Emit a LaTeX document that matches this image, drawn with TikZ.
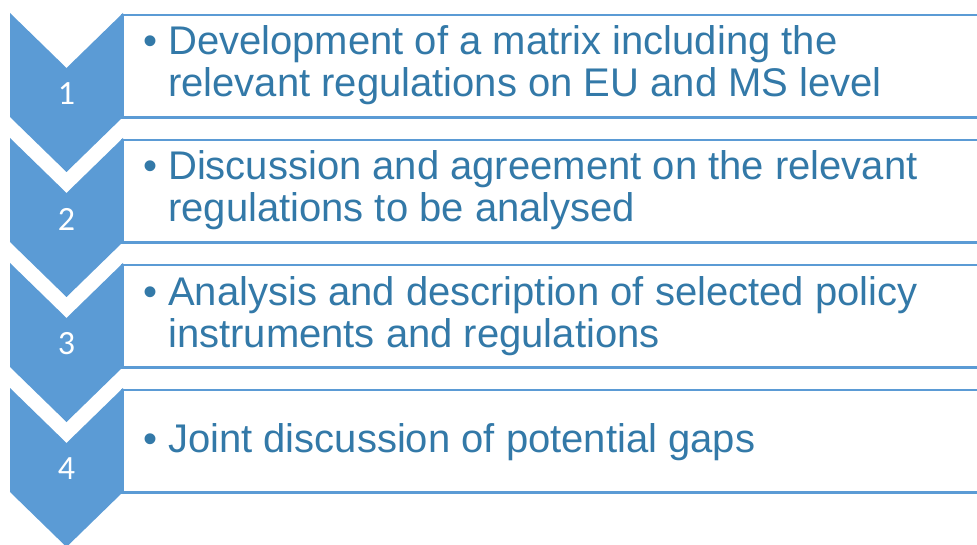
\documentclass[tikz,border=0pt]{standalone}
\usepackage{fontspec}
\setmainfont{Liberation Sans}
\newfontfamily\numfont{Carlito}
\usetikzlibrary{positioning}

\definecolor{chevblue}{HTML}{5B9BD5}
\definecolor{textblue}{HTML}{3379A8}

\begin{document}
\begin{tikzpicture}[x=1pt, y=-1pt, node distance=22.5pt]
    \tikzstyle{chevron} = [fill=chevblue]
    \tikzstyle{stepbox} = [rectangle, draw=chevblue, line width=2.5pt, fill=white, minimum width=880pt, minimum height=102.5pt, inner sep=0pt, outer sep=0pt, anchor=north west]
    \tikzstyle{item} = [anchor=base west, text=textblue, font=\fontsize{40}{42}\selectfont, inner sep=0pt, align=left]
    \tikzstyle{number} = [text=white, font=\numfont\fontsize{34}{34}\selectfont]

    \clip (0,0) rectangle (977,545);

    % step boxes, running off the right edge
    \node [stepbox] (matrix) at (122.5,15) {};
    \node [stepbox, below=of matrix] (agreement) {};
    \node [stepbox, below=of agreement] (analysis) {};
    \node [stepbox, below=of analysis] (gaps) {};

    % chevrons on the left
    \fill [chevron] (10,13) -- (66.5,68) -- (123,13) -- (123,117) -- (66.5,172) -- (10,117) -- cycle;
    \fill [chevron] (10,138) -- (66.5,193) -- (123,138) -- (123,242) -- (66.5,297) -- (10,242) -- cycle;
    \fill [chevron] (10,263) -- (66.5,318) -- (123,263) -- (123,367) -- (66.5,422) -- (10,367) -- cycle;
    \fill [chevron] (10,388) -- (66.5,443) -- (123,388) -- (123,492) -- (66.5,547) -- (10,492) -- cycle;

    \node [number] (num1) at (66.5,94) {1};
    \node [number] (num2) at (66.5,219) {2};
    \node [number] (num3) at (66.5,344) {3};
    \node [number] (num4) at (66.5,469) {4};

    % bullet texts (base = baseline of the last line)
    \node [item] (matrixtext) at ([xshift=45.5pt, yshift=-82pt]matrix.north west)
        {\llap{\textbullet\hspace{11pt}}Development of a matrix including the\\relevant regulations on EU and MS level};
    \node [item] (agreementtext) at ([xshift=45.5pt, yshift=-82pt]agreement.north west)
        {\llap{\textbullet\hspace{11pt}}Discussion and agreement on the relevant\\regulations to be analysed};
    \node [item] (analysistext) at ([xshift=45.5pt, yshift=-82pt]analysis.north west)
        {\llap{\textbullet\hspace{11pt}}Analysis and description of selected policy\\instruments and regulations};
    \node [item] (gapstext) at ([xshift=45.5pt, yshift=-62pt]gaps.north west)
        {\llap{\textbullet\hspace{11pt}}Joint discussion of potential gaps};
\end{tikzpicture}
\end{document}
